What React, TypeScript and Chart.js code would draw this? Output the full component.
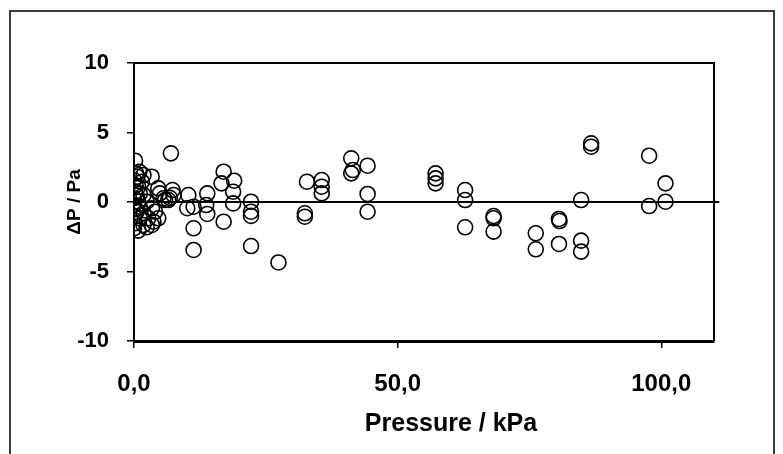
import React, { useEffect, useRef } from "react";
import { Chart, registerables } from "chart.js";

Chart.register(...registerables);

// Pressure / kPa
const pressure: number[] = [
  0.2, 0.4, 1.0, 0.6, 1.8, 0.0, 1.5, 0.8, 0.2, 1.1, 1.8, 0.0, 0.8, 2.4, 0.0, 1.1,
  3.4, 0.5, 1.8, 4.0, 0.0, 1.1, 2.7, 4.6, 0.2, 1.8, 3.4, 0.0, 0.8, 2.4, 3.7, 0.5,
  0.3, 0.3, 3.35, 4.6, 4.9, 5.6, 5.9, 6.5, 7.3, 7.5, 6.8, 7.0,
  10.3, 10.1, 11.3, 11.3, 11.3, 13.9, 13.7, 13.9, 17.0, 16.6, 17.0, 19.0, 18.8, 18.8,
  22.2, 22.2, 22.2, 22.2, 27.4,
  32.8, 35.6, 35.6, 35.6, 32.4, 32.4, 41.2, 41.5, 41.2, 44.3, 44.3, 44.3,
  57.2, 57.2, 57.2, 62.8, 62.8, 62.8,
  68.2, 68.2, 68.2, 76.2, 76.2, 80.6, 80.7, 80.6, 84.8, 84.8, 84.8, 86.7, 86.7,
  97.7, 97.7, 100.8, 100.8,
];

// ΔP / Pa
const deltaP: number[] = [
  2.97, 2.06, 2.18, 1.82, 1.94, 1.58, 1.46, 1.1, 0.74, 0.62, 0.5, 0.27, 0.02, 0.02, -0.22, -0.34,
  -0.45, -0.7, -0.81, -0.7, -1.06, -1.17, -1.17, -1.17, -1.53, -1.65, -1.65, -1.89, -2.06, -1.82, -1.42, 0.45,
  1.2, -0.5, 1.82, 0.98, 0.62, 0.27, 0.14, 0.14, 0.86, 0.5, 0.3, 3.5,
  0.5, -0.45, -0.34, -1.89, -3.45, 0.62, -0.22, -0.86, 2.18, 1.34, -1.42, 1.53, 0.74, -0.1,
  0.02, -0.7, -1.0, -3.17, -4.35,
  1.46, 1.58, 1.1, 0.62, -0.81, -1.06, 3.14, 2.3, 2.06, 2.61, 0.58, -0.7,
  2.06, 1.7, 1.34, 0.86, 0.14, -1.82,
  -1.01, -1.17, -2.13, -2.25, -3.4, -1.22, -1.37, -3.02, -2.78, -3.57, 0.14, 4.22, 3.98,
  3.33, -0.29, 1.34, 0.02,
];

// zero reference line
const zeroLineX: number[] = [0, 111];
const zeroLineY: number[] = [0, 0];

const xTicks: number[] = [0, 50, 100];
const yTicks: number[] = [-10, -5, 0, 5, 10];

const FONT = '"Liberation Sans", Arial, sans-serif';

export default function App() {
  const canvasRef = useRef<HTMLCanvasElement | null>(null);

  useEffect(() => {
    const canvas = canvasRef.current;
    if (!canvas) return;

    const framePlugin = {
      id: "frame",
      afterDraw(chart: any) {
        const { ctx, chartArea } = chart;
        ctx.save();
        // outer frame
        ctx.strokeStyle = "#000";
        ctx.lineWidth = 1.5;
        ctx.strokeRect(10, 11, 764, 470);
        // plot area top & right border
        ctx.lineWidth = 2;
        ctx.beginPath();
        ctx.moveTo(chartArea.left, chartArea.top);
        ctx.lineTo(chartArea.right, chartArea.top);
        ctx.lineTo(chartArea.right, chartArea.bottom);
        ctx.stroke();
        // x axis title
        ctx.fillStyle = "#000";
        ctx.font = "bold 25px " + FONT;
        ctx.textAlign = "center";
        ctx.textBaseline = "middle";
        ctx.fillText("Pressure / kPa", 451, 424);
        ctx.restore();
      },
    };

    const chart = new Chart(canvas, {
      type: "scatter",
      data: {
        datasets: [
          {
            type: "line",
            label: "zero",
            data: zeroLineX.map((x, i) => ({ x, y: zeroLineY[i] })),
            borderColor: "#000",
            borderWidth: 2,
            pointRadius: 0,
            clip: false as any,
            order: 2,
          } as any,
          {
            label: "ΔP",
            data: pressure.map((x, i) => ({ x, y: deltaP[i] })),
            pointStyle: "circle",
            pointRadius: 7.5,
            pointBorderWidth: 1.6,
            borderColor: "#000",
            backgroundColor: "rgba(0,0,0,0)",
            order: 1,
          },
        ],
      },
      options: {
        responsive: false,
        animation: false,
        layout: { padding: { top: 63, right: 69, left: 0, bottom: 0 } },
        plugins: {
          legend: { display: false },
          tooltip: { enabled: false },
        },
        scales: {
          x: {
            type: "linear",
            min: 0,
            max: 110,
            afterFit: (s: any) => {
              s.height = 113;
            },
            afterBuildTicks: (s: any) => {
              s.ticks = xTicks.map((v) => ({ value: v }));
            },
            ticks: {
              color: "#000",
              font: { family: FONT, size: 24, weight: "bold" },
              padding: 22,
              maxRotation: 0,
              autoSkip: false,
              callback: (v: any) => Number(v).toFixed(1).replace(".", ","),
            },
            grid: {
              display: true,
              drawOnChartArea: false,
              drawTicks: true,
              tickLength: 7,
              color: "#000",
              lineWidth: 1.5,
            },
            border: { display: true, color: "#000", width: 3 },
            title: { display: false },
          },
          y: {
            type: "linear",
            min: -10,
            max: 10,
            afterFit: (s: any) => {
              s.width = 134;
            },
            afterBuildTicks: (s: any) => {
              s.ticks = yTicks.map((v) => ({ value: v }));
            },
            ticks: {
              color: "#000",
              font: { family: FONT, size: 22, weight: "bold" },
              padding: 18,
              autoSkip: false,
              callback: (v: any) => String(v),
            },
            grid: {
              display: true,
              drawOnChartArea: false,
              drawTicks: true,
              tickLength: 7,
              color: "#000",
              lineWidth: 1.5,
            },
            border: { display: true, color: "#000", width: 2 },
            title: {
              display: true,
              text: "ΔP / Pa",
              color: "#000",
              font: { family: FONT, size: 19, weight: "bold" },
              padding: { top: 63, bottom: 0 },
            },
          },
        },
      },
      plugins: [framePlugin],
    });

    return () => chart.destroy();
  }, []);

  return (
    <div style={{ position: "fixed", left: 0, top: 0, width: 783, height: 454, background: "#fff" }}>
      <canvas ref={canvasRef} width={783} height={454} style={{ display: "block" }} />
    </div>
  );
}
